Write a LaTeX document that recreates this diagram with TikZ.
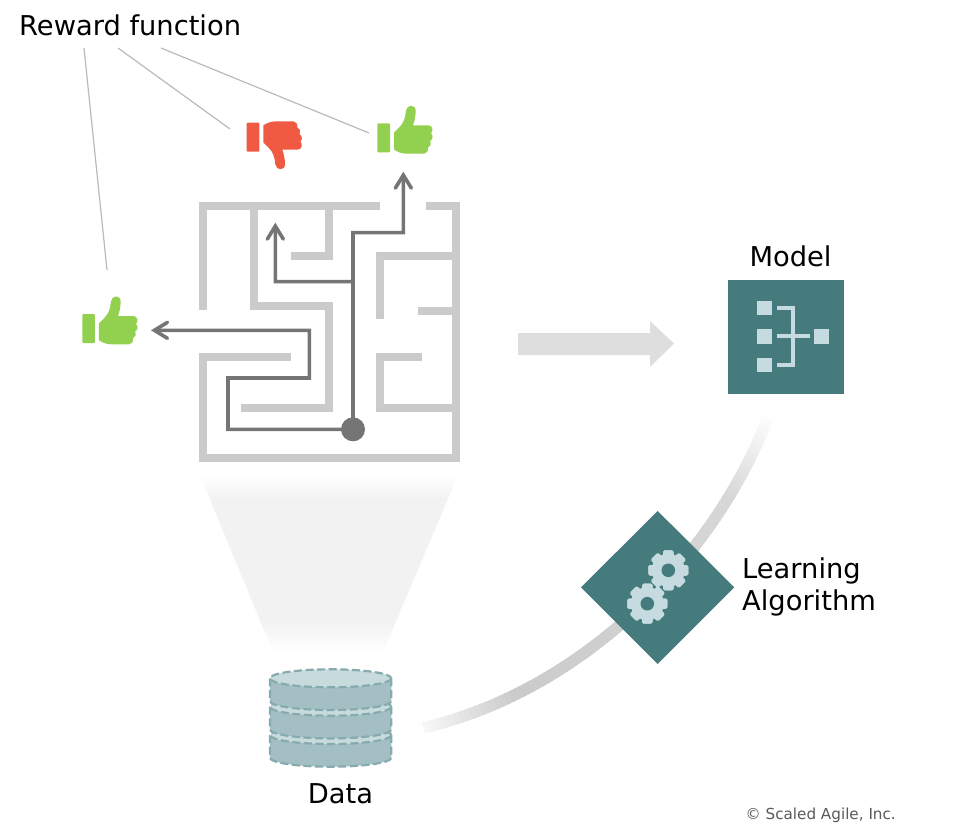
\documentclass[tikz,border=0pt]{standalone}
\usepackage{fontspec}
\setmainfont{DejaVu Sans}
\usetikzlibrary{arrows.meta}
\definecolor{teal}{HTML}{457B7D}
\definecolor{pale}{HTML}{C5DBE0}
\definecolor{wall}{HTML}{CBCBCB}
\definecolor{route}{HTML}{757575}
\definecolor{thumbgood}{HTML}{92D050}
\definecolor{thumbbad}{HTML}{F15A42}
\definecolor{dbtop}{HTML}{C8DBDC}
\definecolor{dbside}{HTML}{A3BFC3}
\definecolor{dbedge}{HTML}{86ABAF}
\definecolor{funnelgrey}{HTML}{F2F2F2}
\pgfdeclareverticalshading{funnelfade}{100bp}{
  color(0bp)=(white); color(25bp)=(white); color(33.5bp)=(funnelgrey);
  color(68bp)=(funnelgrey); color(75bp)=(white); color(100bp)=(white)}
\tikzset{
  wallline/.style={draw=wall,line width=8pt,line join=miter,line cap=butt},
  routeline/.style={draw=route,line width=3.6pt,line join=miter},
  routearrow/.style={routeline,-{Straight Barb[length=13pt,width=16pt,line cap=round]}},
  leader/.style={draw=black!27,line width=1.2pt},
  label/.style={font=\fontsize{27.3}{32}\selectfont,text=black,inner sep=0pt},
  tooth/.style={fill=pale,rounded corners=1.5pt},
  dbshell/.style={draw=dbedge,line width=2.2pt,dash pattern=on 8pt off 3.6pt},
}
% hand outline, drawn as a thumb pointing up
\newcommand{\handshape}[1]{%
  \fill[#1,rounded corners=1pt] (442,70) rectangle (480,157);
  \fill[#1] (492,98) -- (508,82) .. controls (522,68) and (526,52) .. (528,32)
    .. controls (530,13) and (557,12) .. (557,32)
    .. controls (557,50) and (553,64) .. (549,76) -- (595,76)
    .. controls (609,76) and (610,94) .. (603,100)
    .. controls (610,106) and (609,118) .. (601,122)
    .. controls (605,130) and (602,140) .. (594,143)
    .. controls (595,153) and (590,161) .. (582,161) -- (530,161)
    .. controls (515,161) and (503,156) .. (492,149) -- cycle;
}
\newcommand{\dblayer}[1]{% vertical position of the rim
  \fill[dbside] (269.9,#1) -- (269.9,#1+22.7) arc[start angle=180,end angle=360,x radius=60.7,y radius=-9]
    -- (391.3,#1) -- cycle;
  \draw[dbshell] (269.9,#1) -- (269.9,#1+22.7) arc[start angle=180,end angle=360,x radius=60.7,y radius=-9] -- (391.3,#1);
  \filldraw[dbshell,fill=dbtop] (330.6,#1) ellipse[x radius=60.7,y radius=9];
}
\newcommand{\cogwheel}[2]{% centre x, centre y
  \foreach \a in {0,45,...,315}
    \fill[tooth,rotate around={\a:(#1,#2)}] (#1-5.2,#2-20) rectangle (#1+5.2,#2+20);
  \fill[pale] (#1,#2) circle[radius=16.6];
  \fill[teal] (#1,#2) circle[radius=6.8];
}
\begin{document}
\begin{tikzpicture}[x=1pt,y=-1pt]
\useasboundingbox (0,0) rectangle (980,833);

% light cone from the data store up to the maze
\shade[shading=funnelfade] (200,475) -- (458,475) -- (383,652) -- (273,652) -- cycle;

% maze walls and the routes through it
\begin{scope}[shift={(190,190)},scale=0.33333]
  \draw[wallline] (570,47) -- (38,47) -- (38,360);
  \draw[wallline] (708,47) -- (797,47) -- (797,805) -- (38,805) -- (38,502) -- (304,502);
  \draw[wallline] (191,47) -- (191,349) -- (418,349) -- (418,653) -- (153,653);
  \draw[wallline] (418,47) -- (418,198) -- (304,198);
  \draw[wallline] (570,386) -- (570,198) -- (797,198);
  \draw[wallline] (684,362) -- (797,362);
  \draw[wallline] (696,502) -- (570,502) -- (570,653) -- (797,653);
  \coordinate (start) at (489,718);
  \coordinate (fork) at (489,275);
  \coordinate (goalup) at (640,-55);
  \coordinate (goalmid) at (256,98);
  \coordinate (goalleft) at (-117,421);
  \draw[routearrow] (start) -- (fork) -- (489,128) -- (640,128) -- (goalup);
  \draw[routearrow] (fork) -- (256,275) -- (goalmid);
  \draw[routearrow] (start) -- (114,718) -- (114,564) -- (358,564) -- (358,421) -- (goalleft);
  \node[circle,fill=route,minimum size=24pt,inner sep=0pt] (startdot) at (start) {};
\end{scope}

% rewards
\begin{scope}[shift={(230,100)},scale=0.33333]
  \handshape{thumbgood}
\end{scope}
\begin{scope}[shift={(-65,290.67)},scale=0.33333]
  \handshape{thumbgood}
\end{scope}
\begin{scope}[shift={(99.33,175)},xscale=0.33333,yscale=-0.33333]
  \handshape{thumbbad}
\end{scope}

\node[label,anchor=base west] (reward) at (19,35.5) {Reward function};
\coordinate (rewardA) at (84,48);
\coordinate (rewardB) at (118,48);
\coordinate (rewardC) at (161,48);
\coordinate (handA) at (107,270);
\coordinate (handB) at (230,129);
\coordinate (handC) at (369,133);
\draw[leader] (rewardA) -- (handA);
\draw[leader] (rewardB) -- (handB);
\draw[leader] (rewardC) -- (handC);

% block arrow from maze to model
\fill[black!13] (518,333) -- (650,333) -- (650,321) -- (674,343.5) -- (650,367) -- (650,355) -- (518,355) -- cycle;

% model tile
\node[label,anchor=base] (modeltitle) at (790.5,266) {Model};
\fill[teal] (728.3,280) rectangle (844,394);
\begin{scope}[shift={(720,270)},scale=0.33333]
  \fill[pale] (112,92) rectangle (156,136);
  \fill[pale] (112,177) rectangle (156,221);
  \fill[pale] (112,263) rectangle (156,307);
  \fill[pale] (283,177) rectangle (327,221);
  \draw[pale,line width=4pt] (170,114) -- (220,114) -- (220,285) -- (170,285);
  \draw[pale,line width=4pt] (170,199) -- (270,199);
\end{scope}

% curved band from data to model, faded at both ends and lighter toward the model
\foreach \i in {0,...,89}{
  \pgfmathsetmacro{\ta}{\i/90}
  \pgfmathsetmacro{\tb}{(\i+1.4)/90}
  \pgfmathsetmacro{\xa}{(1-\ta)^3*423+3*(1-\ta)^2*\ta*585+3*(1-\ta)*\ta^2*715+\ta^3*767}
  \pgfmathsetmacro{\ya}{(1-\ta)^3*728+3*(1-\ta)^2*\ta*690+3*(1-\ta)*\ta^2*555+\ta^3*420}
  \pgfmathsetmacro{\xb}{(1-\tb)^3*423+3*(1-\tb)^2*\tb*585+3*(1-\tb)*\tb^2*715+\tb^3*767}
  \pgfmathsetmacro{\yb}{(1-\tb)^3*728+3*(1-\tb)^2*\tb*690+3*(1-\tb)*\tb^2*555+\tb^3*420}
  \pgfmathsetmacro{\mixval}{(22-8*\ta)*min(min(1,(0.03+\ta)/0.22),min(1,(1.01-\ta)/0.2))}
  \draw[black!\mixval!white,line width=11.5pt] (\xa,\ya) -- (\xb,\yb);
}

% learning algorithm tile
\fill[teal] (657.7,511) -- (734.3,587.3) -- (657.7,664) -- (581,587.3) -- cycle;
\cogwheel{668.3}{570.3}
\cogwheel{647.3}{603.7}
\node[label,anchor=base west,align=left] (learnA) at (742,578) {Learning};
\node[label,anchor=base west,align=left] (learnB) at (742,610) {Algorithm};

% data store
\dblayer{735}
\dblayer{706.7}
\dblayer{678.3}
\node[label,anchor=base] (datatitle) at (340.5,803) {Data};

\node[font=\fontsize{15.2}{18}\selectfont,text=black!65,anchor=base east,inner sep=0pt] (credit) at (896,819) {© Scaled Agile, Inc.};
\end{tikzpicture}
\end{document}
